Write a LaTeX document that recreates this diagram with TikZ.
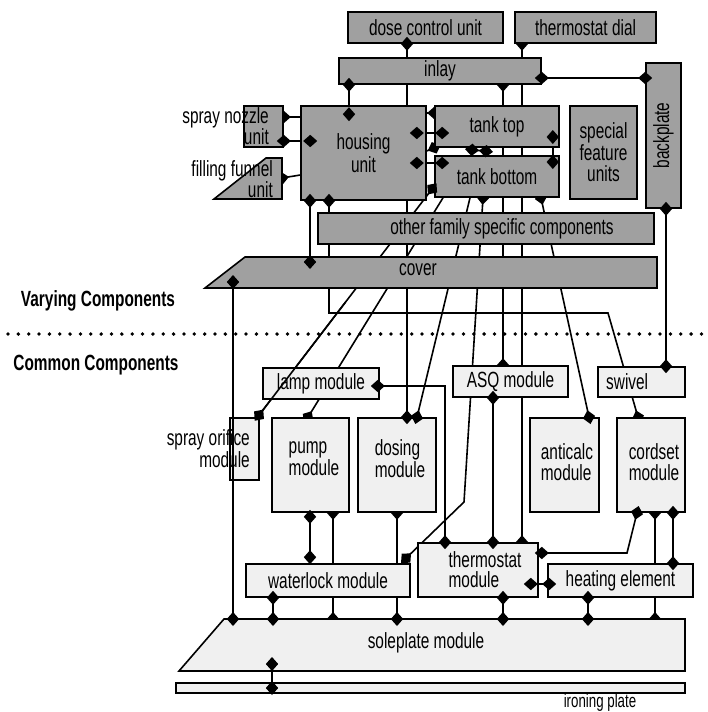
\documentclass[tikz,border=0pt]{standalone}
\usepackage{fontspec}
\setmainfont{Liberation Sans}[FakeStretch=0.70]
\usetikzlibrary{calc,decorations.markings}
\pgfdeclarelayer{bg}\pgfdeclarelayer{shp}\pgfdeclarelayer{fg}
\pgfsetlayers{bg,shp,main,fg}
\definecolor{gD}{HTML}{A0A0A0}
\definecolor{gL}{HTML}{F0F0F0}
\newcommand\dmdshape{\fill (-7pt,0pt) -- (0pt,6.2pt) -- (7pt,0pt) -- (0pt,-6.2pt) -- cycle;}
\newcommand\conn[3]{\begin{pgfonlayer}{bg}\draw[ln,#1] #3;\end{pgfonlayer}\begin{pgfonlayer}{fg}\path[#2] #3;\end{pgfonlayer}}
\tikzset{
  ln/.style={line width=1.6pt},
  hs/.style={postaction={decorate,decoration={markings,mark=at position 0 with {\dmdshape}}}},
  he/.style={postaction={decorate,decoration={markings,mark=at position 1 with {\dmdshape}}}},
  fs/.style={postaction={decorate,decoration={markings,mark=at position 0 with {\dmdshape}}}},
  fe/.style={postaction={decorate,decoration={markings,mark=at position 1 with {\dmdshape}}}},
  box/.style={draw, line width=1.6pt, inner sep=0pt, font=\fontsize{22}{18}\selectfont},
  gbox/.style={box, fill=gD},
  lbox/.style={box, fill=gL},
  lab/.style={inner sep=0pt, font=\fontsize{22}{18}\selectfont},
  shapebox/.style={inner sep=0pt, outer sep=0pt},
}
\begin{document}
\begin{tikzpicture}[x=1pt,y=-1pt]
\useasboundingbox (0,0) rectangle (707,712);
% ---------- varying components ----------
\node[gbox, minimum width=155pt, minimum height=31pt] (dose) at (425.5,27.5) {dose control unit};
\node[gbox, minimum width=141pt, minimum height=31pt] (dial) at (585.5,27.5) {thermostat dial};
\node[gbox, minimum width=202pt, minimum height=26pt] (inlay) at (440,71) {inlay};
\node[gbox, minimum width=39pt, minimum height=41pt] (spraynoz) at (263.5,126.5) {};
\node[lab, align=right, anchor=east] (spraynozL) at (269,126) {spray nozzle\\unit};
\node[shapebox, minimum width=68pt, minimum height=41pt] (funnel) at (248,178.5) {};
\begin{pgfonlayer}{shp}
\draw[line width=1.6pt, fill=gD] (funnel.south west) -- ($(funnel.north east)+(-16,0)$) -- (funnel.north east) -- (funnel.south east) -- cycle;
\end{pgfonlayer}
\node[lab, align=right, anchor=east] (funnelL) at (273,179) {filling funnel\\unit};
\node[gbox, minimum width=125pt, minimum height=94pt, align=center, font=\fontsize{22}{23}\selectfont] (housing) at (363.5,153) {housing\\unit};
\node[gbox, minimum width=124pt, minimum height=41pt] (tanktop) at (497,126.5) {tank top};
\node[gbox, minimum width=124pt, minimum height=41pt] (tankbot) at (497,176.5) {tank bottom};
\node[gbox, minimum width=67pt, minimum height=93pt, align=center, font=\fontsize{22}{21.5}\selectfont] (special) at (603.5,152.5) {special\\feature\\units};
\node[gbox, minimum width=35pt, minimum height=145pt] (backplate) at (663.5,135.5) {};
\node[lab, rotate=90] (backplateL) at (backplate.center) {backplate};
\node[gbox, minimum width=336pt, minimum height=31pt] (other) at (486,228.5) {};
\node[lab] (otherL) at ([xshift=16pt]other.center) {other family specific components};
\node[shapebox, minimum width=452pt, minimum height=31pt] (cover) at (431,272.5) {};
\begin{pgfonlayer}{shp}
\draw[line width=1.6pt, fill=gD] (cover.south west) -- ($(cover.north west)+(40,0)$) -- (cover.north east) -- (cover.south east) -- cycle;
\end{pgfonlayer}
\node[lab] (coverL) at (418,270) {cover};
% ---------- separator ----------
\node[lab, font=\fontsize{22}{18}\selectfont\bfseries] (varying) at (98,301) {Varying Components};
\node[lab, font=\fontsize{22}{18}\selectfont\bfseries] (common) at (96,365) {Common Components};
\draw[line width=3.8pt, line cap=round, dash pattern=on 0pt off 10.35pt] (8,334) -- (707,334);
% ---------- common components ----------
\node[lbox, minimum width=116pt, minimum height=31pt] (lamp) at (321,383.5) {lamp module};
\node[lbox, minimum width=115pt, minimum height=31pt] (asq) at (510.5,381.5) {ASQ module};
\node[lbox, minimum width=87pt, minimum height=30pt] (swivel) at (641.5,382) {};
\node[lab, anchor=west] (swivelL) at (606,382) {swivel};
\node[lbox, minimum width=29pt, minimum height=62pt] (sprayorif) at (244.5,449) {};
\node[lab, align=right, anchor=east, font=\fontsize{22}{22}\selectfont] (sprayorifL) at (250,449) {spray orifice\\module};
\node[lbox, minimum width=77pt, minimum height=94pt] (pump) at (310.5,465) {};
\node[lab, align=left, font=\fontsize{22}{22}\selectfont] (pumpL) at (314,459) {pump\\module};
\node[lbox, minimum width=78pt, minimum height=94pt] (dosing) at (397,465) {};
\node[lab, align=left, font=\fontsize{22}{22}\selectfont] (dosingL) at (400,459) {dosing\\module};
\node[lbox, minimum width=69pt, minimum height=94pt] (anticalc) at (564.5,465) {};
\node[lab, align=left, font=\fontsize{22}{21}\selectfont] (anticalcL) at (567,462) {anticalc\\module};
\node[lbox, minimum width=68pt, minimum height=94pt] (cordset) at (651,465) {};
\node[lab, align=left, font=\fontsize{22}{21}\selectfont] (cordsetL) at (654,462) {cordset\\module};
\node[lbox, minimum width=120pt, minimum height=54pt] (thermo) at (478,570) {};
\node[lab, align=left, font=\fontsize{22}{20}\selectfont] (thermoL) at (485,570) {thermostat\\module};
\node[lbox, minimum width=164pt, minimum height=33pt] (waterlock) at (328,580.5) {waterlock module};
\node[lbox, minimum width=145pt, minimum height=33pt] (heating) at (620.5,580.5) {heating element};
\node[shapebox, minimum width=506pt, minimum height=52pt] (sole) at (432,645) {};
\begin{pgfonlayer}{shp}
\draw[line width=1.6pt, fill=gL] (sole.south west) -- ($(sole.north west)+(45,0)$) -- (sole.north east) -- (sole.south east) -- cycle;
\end{pgfonlayer}
\node[lab] (soleL) at (426,643) {soleplate module};
\node[lbox, minimum width=509pt, minimum height=10pt] (ironing) at (430.5,688) {};
\node[lab, anchor=base, font=\fontsize{19}{18}\selectfont] (ironingL) at (600,707.5) {ironing plate};
% ---------- connectors ----------
\conn{}{fs,fe}{(407,0 |- dose.south) -- (407,0 |- dosing.north)}
\conn{hs,he}{}{(522,0 |- dial.south) -- (522,0 |- thermo.north)}
\conn{hs,he}{}{(503,0 |- inlay.south) -- (503,0 |- asq.north)}
\conn{}{fs,fe}{(inlay.east |- 0,78) -- (backplate.west |- 0,78)}
\conn{}{fs,fe}{(349,0 |- inlay.south) -- ($(349,0 |- housing.north)+(0,9)$)}
\conn{hs}{}{(spraynoz.east |- 0,117) -- (housing.west |- 0,117)}
\conn{}{fs,fe}{(spraynoz.east |- 0,141) -- ($(housing.west |- 0,141)+(10,0)$)}
\conn{hs}{}{(funnel.east |- 0,178) -- (housing.west |- 0,175)}
\conn{}{fs,fe}{($(housing.east |- 0,133)+(-10,0)$) -- ($(tanktop.west |- 0,133)+(8,0)$)}
\conn{}{fs,fe}{($(housing.east |- 0,163)+(-10,0)$) -- ($(tankbot.west |- 0,163)+(8,0)$)}
\conn{he}{}{(housing.east |- 0,113) -- (tanktop.west |- 0,113)}
\conn{he}{}{(housing.east |- 0,151) -- (tanktop.south west)}
\conn{}{fs,fe}{($(tanktop.south)+(-25,2)$) -- ($(tankbot.north)+(-11,-4)$)}
\conn{}{fs,fe}{($(tanktop.east |- 0,137)+(-7,0)$) -- ($(tankbot.east |- 0,162)+(-7,0)$)}
\conn{}{fs,fe}{(310,0 |- housing.south) -- ($(310,0 |- cover.north)+(0,5)$)}
\conn{he}{fs}{(329,0 |- housing.south) -- (329,313) -- (608,313) -- (638,0 |- cordset.north)}
\coordinate (a17) at ($(tankbot.south west)+(-2,-9)$);
\coordinate (b17) at ($(259,0 |- sprayorif.north)+(0,-2)$);
\conn{}{fs,fe}{(a17) -- (b17)}
\begin{pgfonlayer}{fg}\draw[ln] ($(a17)!0.5!(b17)$) -- (b17);\end{pgfonlayer}
\conn{he}{}{(443,0 |- tankbot.south) -- (308,0 |- pump.north)}
\conn{}{fe}{(470,0 |- tankbot.south) -- (417,0 |- dosing.north)}
\conn{hs}{fe}{(483,0 |- tankbot.south) -- (464,502) -- ($(406,0 |- waterlock.north)+(0,-5)$)}
\conn{hs}{fe}{(541,0 |- tankbot.south) -- (589,0 |- anticalc.north)}
\conn{}{fs,fe}{(666,0 |- backplate.south) -- (666,0 |- swivel.north)}
\begin{pgfonlayer}{fg}
\draw[ln,fs,fe] ($(233,0 |- cover.south)+(0,-6)$) -- (233,0 |- sole.north);
\end{pgfonlayer}
\conn{}{fs,fe}{($(lamp.east |- 0,386)+(-2,0)$) -- (445,386) -- (445,0 |- thermo.north)}
\conn{}{fs,fe}{(493,0 |- asq.south) -- (493,0 |- thermo.north)}
\conn{}{fs,fe}{($(310,0 |- pump.south)+(0,4)$) -- ($(310,0 |- waterlock.north)+(0,-6)$)}
\conn{hs,he}{}{(333,0 |- pump.south) -- (333,0 |- sole.north)}
\conn{hs}{fe}{(397,0 |- dosing.south) -- (397,0 |- sole.north)}
\conn{}{fs,fe}{(273,0 |- waterlock.south) -- (273,0 |- sole.north)}
\conn{}{fs,fe}{($(272,0 |- sole.south)+(0,-7)$) -- (272,0 |- ironing.center)}
\conn{}{fs,fe}{($(thermo.east |- 0,584)+(-8,0)$) -- ($(heating.west |- 0,584)+(2,0)$)}
\conn{}{fs,fe}{($(thermo.east |- 0,553)+(3,0)$) -- (627,553) -- (637,0 |- cordset.south)}
\conn{hs,he}{}{(655,0 |- cordset.south) -- (655,0 |- sole.north)}
\conn{}{fs,fe}{(673,0 |- cordset.south) -- (673,0 |- heating.north)}
\conn{}{fs,fe}{(503,0 |- thermo.south) -- (503,0 |- sole.north)}
\conn{}{fs,fe}{(588,0 |- heating.south) -- (588,0 |- sole.north)}
\end{tikzpicture}
\end{document}
